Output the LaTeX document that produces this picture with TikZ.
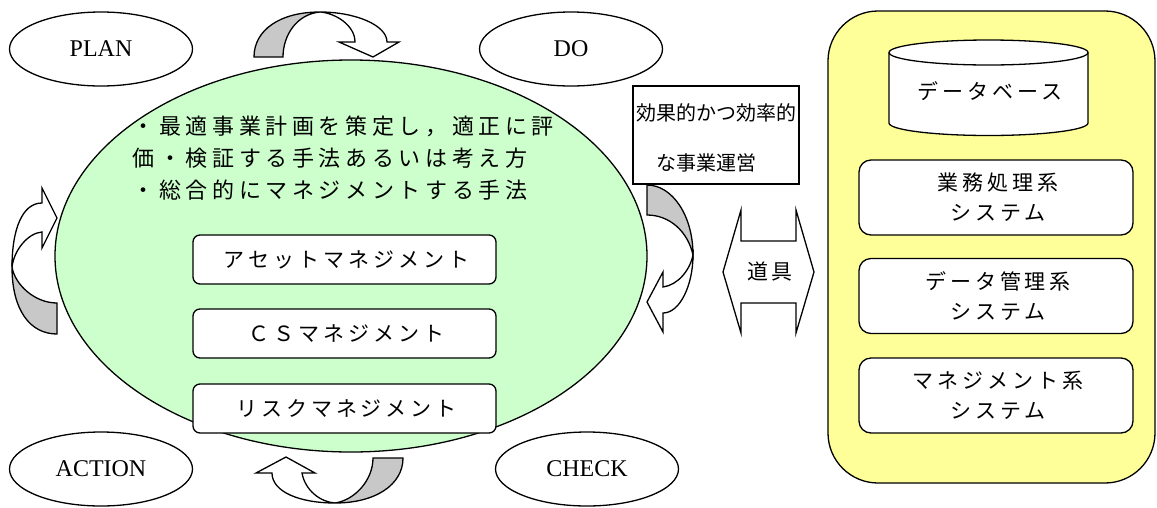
\documentclass[tikz,border=0pt]{standalone}
\usepackage{fontspec}
\setmainfont{Liberation Serif}
\newfontfamily\jpbig[LetterSpace=21]{Noto Sans CJK JP}
\newfontfamily\jpmid[LetterSpace=19]{Noto Sans CJK JP}
\newfontfamily\jpplain{Noto Sans CJK JP}
\usetikzlibrary{shapes.geometric}
\definecolor{lgreen}{RGB}{204,255,204}
\definecolor{lyellow}{RGB}{255,255,153}
\definecolor{bandgray}{RGB}{200,200,200}
\begin{document}
\begin{tikzpicture}[x=1pt,y=-1pt,line width=1.3pt,
  phase/.style={ellipse,draw,fill=white,minimum width=183pt,minimum height=74pt,inner sep=0pt,font=\fontsize{24}{28}\selectfont},
  mgmt/.style={draw,fill=white,rounded corners=7pt,minimum width=303pt,minimum height=49pt,inner sep=0pt,font=\jpmid\fontsize{21}{30}\selectfont},
  sysbox/.style={draw,fill=white,rounded corners=12pt,minimum width=274pt,minimum height=75pt,inner sep=0pt,align=center,font=\jpmid\fontsize{21}{30}\selectfont},
  lead/.style={anchor=west,inner sep=0pt,font=\jpbig\fontsize{22}{26}\selectfont},
  plain/.style={inner sep=0pt,font=\jpplain\fontsize{20}{24}\selectfont},
  bandback/.style={draw,fill=bandgray},
  bandfront/.style={draw,fill=white}]
\useasboundingbox (0,0) rectangle (1157,507);

% main ellipse
\node[ellipse,draw,fill=lgreen,minimum width=592pt,minimum height=392pt,inner sep=0pt] (main) at (351,256) {};

% PDCA ellipses
\node[phase] (plan) at (101,49) {PLAN};
\node[phase] (do) at (571,49) {DO};
\node[phase] (action) at (101,469) {ACTION};
\node[phase] (check) at (587,469) {CHECK};

% top curved arrow
\path[bandback] (254,57) .. controls (254,30) and (280,12) .. (320,12)
  .. controls (297,14) and (283,35) .. (283,57) -- cycle;
\path[bandfront] (320,12) .. controls (355,12) and (387,25) .. (387,42)
  -- (399,42) -- (373,57) -- (339,42) -- (355,42)
  .. controls (355,25) and (335,13) .. (320,12) -- cycle;

% left curved arrow
\path[bandback] (57,334) .. controls (30,334) and (12,310) .. (12,267)
  .. controls (15,285) and (35,303) .. (57,303) -- cycle;
\path[bandfront] (12,267) .. controls (12,230) and (22,203) .. (42,203)
  -- (42,188) -- (57,218) -- (42,248) -- (42,232)
  .. controls (28,233) and (14,250) .. (12,267) -- cycle;

% right curved arrow
\path[bandback] (647,185) .. controls (672,185) and (693,215) .. (693,255)
  .. controls (688,232) and (670,215) .. (647,215) -- cycle;
\path[bandfront] (693,255) .. controls (693,285) and (680,313) .. (663,313)
  -- (663,332) -- (647,302) -- (663,272) -- (663,287)
  .. controls (678,285) and (690,270) .. (693,255) -- cycle;

% bottom curved arrow
\path[bandback] (403,458) .. controls (403,485) and (375,503) .. (335,503)
  .. controls (355,500) and (373,480) .. (373,458) -- cycle;
\path[bandfront] (335,503) .. controls (300,503) and (272,492) .. (272,473)
  -- (256,473) -- (286,457) -- (315,473) -- (302,473)
  .. controls (305,490) and (320,502) .. (335,503) -- cycle;

% text in main ellipse
\node[lead] (l1) at (132,126) {・最適事業計画を策定し，適正に評};
\node[lead] (l2) at (132,158) {価・検証する手法あるいは考え方};
\node[lead] (l3) at (132,190) {・総合的にマネジメントする手法};

% management boxes
\node[mgmt] (asset) at (344.5,259.5) {\hspace{4pt}アセットマネジメント};
\node[mgmt] (cs) at (344.5,333.5) {\hspace{4pt}ＣＳマネジメント};
\node[mgmt] (risk) at (344.5,408.5) {\hspace{4pt}リスクマネジメント};

% effective box
\node[draw,fill=white,minimum width=166pt,minimum height=98pt,inner sep=0pt] (eff) at (716,135) {};
\node[plain] (eff1) at (716,113) {効果的かつ効率的};
\node[plain] (eff2) at (706,163) {な事業運営};

% double arrow
\path[draw,fill=white] (723,272) -- (741,210) -- (741,241) -- (796,241) -- (796,210)
  -- (814,272) -- (796,333) -- (796,303) -- (741,303) -- (741,333) -- cycle;
\node[inner sep=0pt,font=\jpmid\fontsize{21}{24}\selectfont] (tool) at (770,272) {道具};

% right system panel
\node[draw,fill=lyellow,rounded corners=50pt,minimum width=327pt,minimum height=472pt,inner sep=0pt] (panel) at (991.5,247) {};
\path[draw,fill=white] (889,52.5) -- (889,123)
  .. controls (889,129.9) and (933.6,135.5) .. (988.5,135.5)
  .. controls (1043.4,135.5) and (1088,129.9) .. (1088,123) -- (1088,52.5);
\draw[fill=white] (988.5,52.5) ellipse [x radius=99.5pt, y radius=12.5pt];
\node[inner sep=0pt,font=\jpmid\fontsize{21}{24}\selectfont] (db) at (990,91) {データベース};

\node[sysbox] (sys1) at (996,197.5) {\hspace{4pt}業務処理系\\\hspace{4pt}システム};
\node[sysbox] (sys2) at (996,296) {\hspace{4pt}データ管理系\\\hspace{4pt}システム};
\node[sysbox] (sys3) at (996,395.5) {\hspace{4pt}マネジメント系\\\hspace{4pt}システム};
\end{tikzpicture}
\end{document}
